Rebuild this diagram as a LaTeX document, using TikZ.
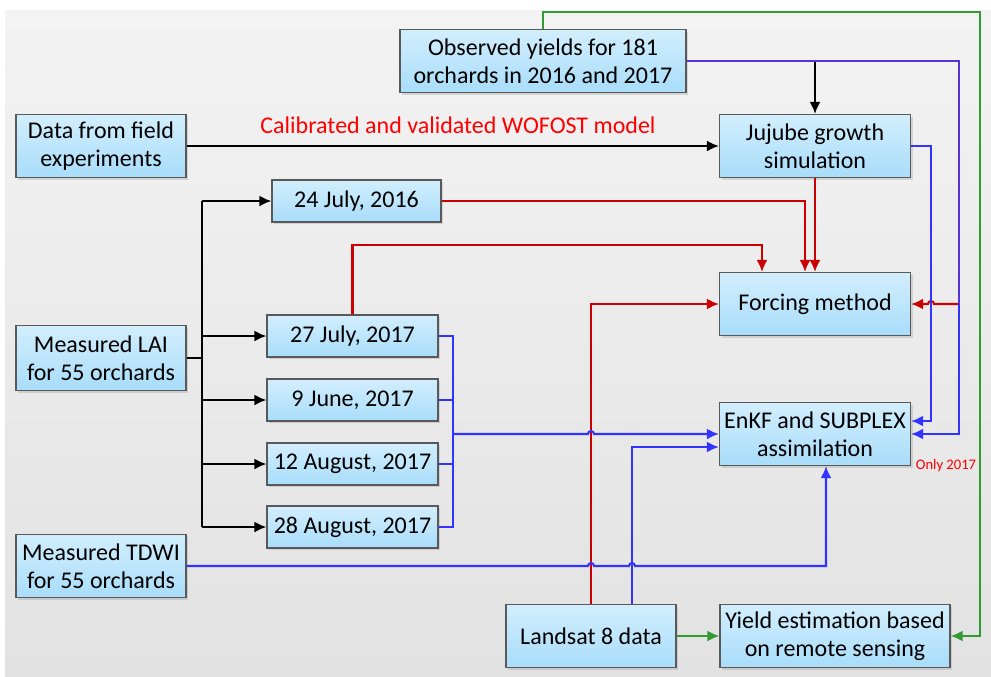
\documentclass[tikz,border=0pt]{standalone}
\usepackage{fontspec}
\setmainfont{Carlito}
\usetikzlibrary{arrows.meta,shadows}
\definecolor{boxtop}{RGB}{210,238,253}
\definecolor{boxbot}{RGB}{168,221,250}
\definecolor{redline}{RGB}{204,0,0}
\definecolor{blueline}{RGB}{51,51,255}
\definecolor{purpline}{RGB}{85,51,214}
\definecolor{greenline}{RGB}{51,153,51}
\definecolor{bgtop}{RGB}{243,243,243}
\definecolor{bgbot}{RGB}{226,226,226}

\begin{document}
\begin{tikzpicture}[x=0.5pt, y=-0.5pt, >={Latex[length=6pt,width=5.5pt]},
  flowbox/.style={draw=black!65, line width=0.6pt, top color=boxtop, bottom color=boxbot,
    drop shadow={shadow xshift=1pt, shadow yshift=-1pt, opacity=0.25},
    align=center, minimum height=31.5pt, inner sep=2pt,
    font=\fontsize{12}{14}\selectfont},
  datebox/.style={flowbox, minimum height=21pt, minimum width=85.5pt},
  kl/.style={line width=1.05pt, black},
  rl/.style={line width=1.05pt, redline},
  bl/.style={line width=1.05pt, blueline},
  pl/.style={line width=1.05pt, purpline},
  gl/.style={line width=1.05pt, greenline}]
  \useasboundingbox (0,0) rectangle (991,676);
  \shade[top color=bgtop, bottom color=bgbot] (5,10) rectangle (991,676);

  % boxes
  \node[flowbox, minimum width=143pt] (obs) at (543,61) {Observed yields for 181\\orchards in 2016 and 2017};
  \node[flowbox, minimum width=85pt] (field) at (101,146) {Data from field\\experiments};
  \node[flowbox, minimum width=95.5pt] (juju) at (815,146) {Jujube growth\\simulation};
  \node[flowbox, minimum width=95.5pt] (forcing) at (815,304) {Forcing method};
  \node[flowbox, minimum width=95.5pt] (enkf) at (815,434) {EnKF and SUBPLEX\\assimilation};
  \node[flowbox, minimum width=85pt, minimum height=32.5pt] (lai) at (101,358) {Measured LAI\\for 55 orchards};
  \node[flowbox, minimum width=85pt] (tdwi) at (101,566) {Measured TDWI\\for 55 orchards};
  \node[flowbox, minimum width=85pt] (landsat) at (591,636) {Landsat 8 data};
  \node[flowbox, minimum width=115pt] (yieldrs) at (835,636) {Yield estimation based\\on remote sensing};

  \node[datebox, minimum width=84.5pt] (d2016) at (356.5,201) {24 July, 2016};
  \node[datebox] (d0727) at (352.5,336) {27 July, 2017};
  \node[datebox] (d0609) at (352.5,400) {9 June, 2017};
  \node[datebox] (d0812) at (352.5,464) {12 August, 2017};
  \node[datebox] (d0828) at (352.5,527) {28 August, 2017};

  \node[text=red, font=\fontsize{12}{14}\selectfont] (wofost) at (458,125) {Calibrated and validated WOFOST model};
  \node[text=red, font=\fontsize{7.3}{9}\selectfont] (only) at (946,466) {Only 2017};

  \coordinate (trunk) at (202,358);
  \coordinate (bus) at (453,434);
  \coordinate (gtop) at (980,12);
  \coordinate (psplit) at (959,304);

  % black
  \draw[kl,->] (field.east) -- (juju.west);
  \draw[kl,->] (obs.east -| juju.north) -- (juju.north);
  \draw[kl] (lai.east) -- (trunk);
  \draw[kl] (trunk |- d2016.west) -- (trunk |- d0828.west);
  \foreach \d in {d2016,d0727,d0609,d0812,d0828}
    \draw[kl,->] (trunk |- \d.west) -- (\d.west);

  % green
  \draw[gl,->] (obs.north) |- (gtop) |- (yieldrs.east);
  \draw[gl,->] (landsat.east) -- (yieldrs.west);

  % red
  \draw[rl,->] (d2016.east) -| ([xshift=-5pt]forcing.north);
  \draw[rl,->] (juju.south) -- (forcing.north);
  \draw[rl,->] (d0727.north) -- ++(0,-69) -| ([xshift=-26.5pt]forcing.north);
  \draw[rl,->] (landsat.north) |- (forcing.west);
  \draw[rl,->] (psplit) -- (934,304) arc[start angle=0, end angle=-180, radius=3] -- (forcing.east);

  % blue and purple
  \draw[pl] (obs.east) -| (psplit);
  \draw[bl,->] (psplit) |- (enkf.east);
  \draw[bl,->] (juju.east) -| (931,421) -- ([yshift=6.5pt]enkf.east);
  \draw[bl] (d0727.east) -| (bus |- d0828.east) -- (d0828.east);
  \draw[bl] (d0609.east) -- (bus |- d0609.east);
  \draw[bl] (d0812.east) -- (bus |- d0812.east);
  \draw[bl,->] (bus) -- (588,434) arc[start angle=180, end angle=360, radius=3] -- (enkf.west);
  \draw[bl,->] ([xshift=20.5pt]landsat.north) |- ([yshift=-6.5pt]enkf.west);
  \draw[bl,->] (tdwi.east) -- (588,566) arc[start angle=180, end angle=360, radius=3]
    -- (629,566) arc[start angle=180, end angle=360, radius=3]
    -- (826,566) -- ([xshift=5.5pt]enkf.south);
\end{tikzpicture}
\end{document}
